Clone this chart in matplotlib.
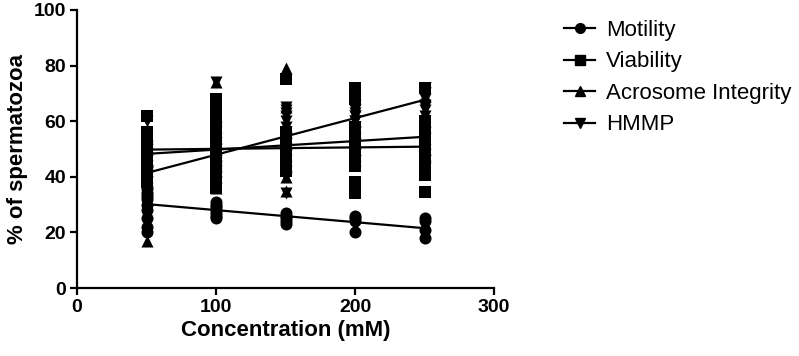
import numpy as np
import matplotlib.pyplot as plt
from matplotlib.lines import Line2D

plt.rcParams['font.family'] = ['Liberation Sans', 'DejaVu Sans']

conc = [50, 100, 150, 200, 250]

motility = [
    [20, 22, 25, 30, 33, 36, 44, 28, 32, 34],
    [25, 26, 28, 30, 31, 27, 29],
    [23, 24, 25, 26, 27],
    [20, 25, 26, 24],
    [18, 21, 24, 25],
]
viability = [
    [62, 53, 50, 46, 42, 38, 52, 44, 48, 54, 40, 56],
    [68, 64, 58, 50, 44, 38, 36, 54, 60, 46, 40, 62, 48],
    [75, 50, 46, 43, 42, 44, 52, 56, 48, 44, 50],
    [72, 68, 46, 48, 45, 38, 34, 52, 55, 58, 44, 50],
    [72, 58, 50, 44, 40.5, 34.5, 48, 52, 56, 46, 60, 44],
]
acrosome = [
    [17, 52, 54, 55, 53, 50, 55, 42, 54, 45, 51],
    [74, 40, 45, 50, 48, 42, 54, 58, 46, 62, 36, 44],
    [79, 65, 40, 44, 43, 35, 50, 56, 52, 48, 54, 58, 46],
    [58, 52, 50, 48, 55, 46, 60, 50, 56],
    [69, 54, 50, 47, 50, 58, 52, 60, 48],
]
hmmp = [
    [60, 35, 38, 33, 40, 42, 36, 44, 46, 32, 48],
    [74, 40, 42, 45, 44, 43, 50, 52, 38, 46, 56],
    [65, 40, 34, 60, 64, 63, 56, 52, 58, 48, 50, 62, 54],
    [62, 64, 60, 58, 62, 56, 66, 60, 63],
    [72, 70, 68, 65, 66, 64, 72, 62, 70],
]

names = ['Motility', 'Viability', 'Acrosome Integrity', 'HMMP']
series = [motility, viability, acrosome, hmmp]
markers = ['o', 's', '^', 'v']

fig = plt.figure(figsize=(7.99, 3.56), dpi=100)
ax = fig.add_axes([0.0964, 0.191, 0.522, 0.781])

handles = []
for data, mk, name in zip(series, markers, names):
    xs = []
    ys = []
    for c, vals in zip(conc, data):
        xs += [c] * len(vals)
        ys += vals
    ax.scatter(xs, ys, color='black', marker=mk, s=75, zorder=3, linewidths=0)
    k, b = np.polyfit(xs, ys, 1)
    lx = np.array([conc[0], conc[-1]])
    ax.plot(lx, k * lx + b, color='black', lw=1.6, zorder=2)
    handles.append(Line2D([], [], color='black', marker=mk, markersize=7, lw=1.6))

ax.set_xlim(0, 300)
ax.set_ylim(0, 100)
ax.set_xticks([0, 100, 200, 300])
ax.set_yticks([0, 20, 40, 60, 80, 100])
ax.spines['top'].set_visible(False)
ax.spines['right'].set_visible(False)
for s in ['left', 'bottom']:
    ax.spines[s].set_linewidth(1.6)
ax.tick_params(width=1.6, length=5, labelsize=14, pad=3)
for t in ax.get_xticklabels() + ax.get_yticklabels():
    t.set_fontweight('bold')
ax.set_xlabel('Concentration (mM)', fontsize=16, fontweight='bold', labelpad=3)
ax.set_ylabel('% of spermatozoa', fontsize=16, fontweight='bold', labelpad=4)

ax.legend(handles, names, loc='upper left', bbox_to_anchor=(0.681, 1.0),
          bbox_transform=fig.transFigure, frameon=False, fontsize=16,
          handlelength=1.4, handletextpad=0.5, labelspacing=0.47)

plt.savefig('out.png', dpi=100)
